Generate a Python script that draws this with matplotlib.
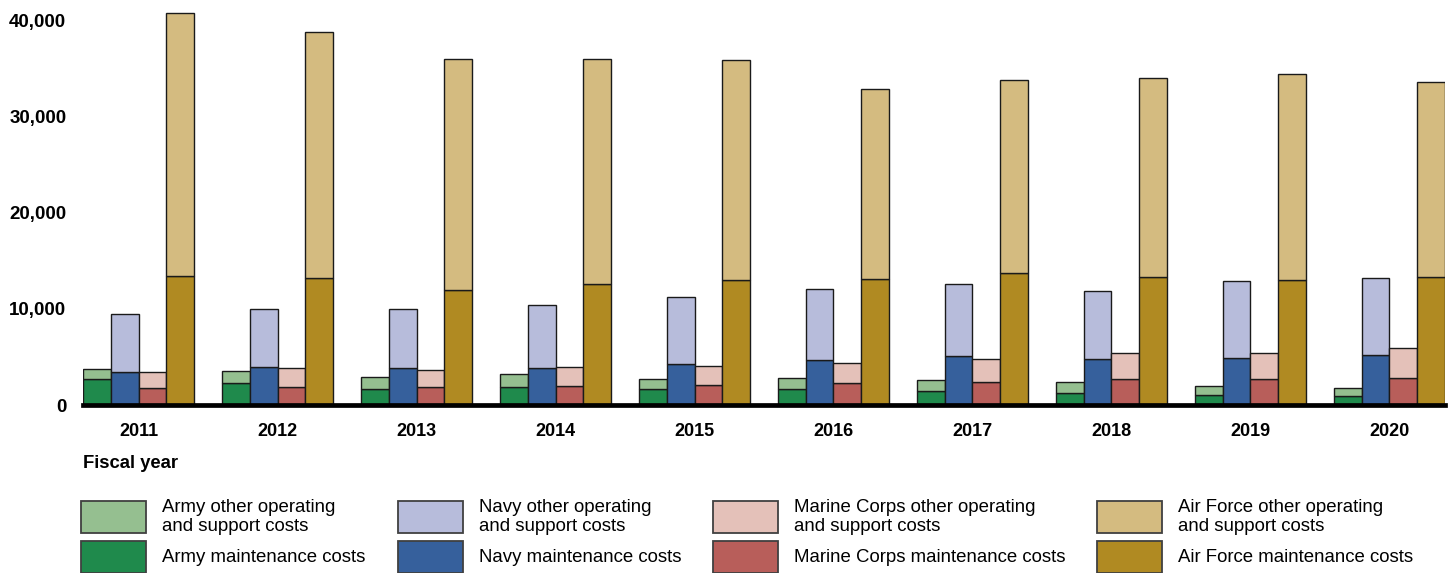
import numpy as np
import matplotlib.pyplot as plt
from matplotlib.patches import Rectangle
from matplotlib.ticker import FuncFormatter

plt.rcParams['font.family'] = ['Liberation Sans', 'DejaVu Sans']

# DATA
# ==========================================
years = ['2011', '2012', '2013', '2014', '2015', '2016', '2017', '2018', '2019', '2020']

army_maint = [2700, 2250, 1690, 1900, 1690, 1690, 1450, 1210, 1070, 960]
army_other = [1010, 1280, 1190, 1290, 1040, 1080, 1180, 1140, 870, 780]
navy_maint = [3460, 3920, 3840, 3810, 4290, 4680, 5060, 4780, 4910, 5190]
navy_other = [6030, 6080, 6100, 6550, 6900, 7340, 7480, 7100, 8000, 7970]
marine_maint = [1740, 1900, 1900, 1940, 2050, 2290, 2420, 2700, 2670, 2840]
marine_other = [1720, 1940, 1770, 1980, 1980, 2070, 2330, 2670, 2700, 3080]
af_maint = [13370, 13190, 11980, 12600, 12990, 13120, 13710, 13270, 12990, 13330]
af_other = [27330, 25560, 23940, 23350, 22850, 19680, 20060, 20730, 21430, 20200]

services = ['Army', 'Navy', 'Marine Corps', 'Air Force']
maint_colors = ['#1f8a4c', '#36609c', '#b85e5a', '#b08a22']
other_colors = ['#95bf90', '#b7bcdb', '#e4c1b9', '#d4bb80']


def main():
    fig = plt.figure(figsize=(14.53, 5.73), dpi=100)
    ax = fig.add_axes([83 / 1453, 168 / 573, 1362 / 1453, 394.6 / 573])

    maint = [army_maint, navy_maint, marine_maint, af_maint]
    other = [army_other, navy_other, marine_other, af_other]
    x = np.arange(len(years))
    w = 0.2

    # BARS
    # ==========================================
    for j in range(4):
        pos = x + (j - 1.5) * w
        ax.bar(pos, maint[j], width=w, color=maint_colors[j],
               edgecolor='#1a1a1a', linewidth=1.0, zorder=2)
        ax.bar(pos, other[j], width=w, bottom=maint[j], color=other_colors[j],
               edgecolor='#1a1a1a', linewidth=1.0, zorder=2)

    ax.set_xlim(-0.4, len(years) - 1 + 0.4)
    ax.set_ylim(0, 41000)
    ax.set_yticks([0, 10000, 20000, 30000, 40000])
    ax.yaxis.set_major_formatter(FuncFormatter(lambda v, p: f'{int(v):,}'))
    ax.set_xticks(x)
    ax.set_xticklabels(years)

    for s in ['top', 'right', 'left']:
        ax.spines[s].set_visible(False)
    ax.spines['bottom'].set_linewidth(3.4)
    ax.spines['bottom'].set_color('black')
    ax.spines['bottom'].set_zorder(5)

    ax.tick_params(axis='y', length=0, pad=12, labelsize=13.5)
    ax.tick_params(axis='x', length=0, pad=13, labelsize=13)
    for lbl in ax.get_yticklabels() + ax.get_xticklabels():
        lbl.set_fontweight('bold')

    fig.text(83 / 1453, 1 - 463 / 573, 'Fiscal year', fontsize=13.3, fontweight='bold',
             ha='left', va='center')

    # LEGEND (drawn by hand to keep the column positions)
    # ==========================================
    W, H = 1453, 573
    col_x = [81, 398, 713, 1097]
    for j, name in enumerate(services):
        px = col_x[j]
        rows = [(501, other_colors[j], f'{name} other operating\nand support costs'),
                (541, maint_colors[j], f'{name} maintenance costs')]
        for top, col, txt in rows:
            fig.add_artist(Rectangle((px / W, 1 - (top + 32) / H), 65 / W, 32 / H,
                                     transform=fig.transFigure, facecolor=col,
                                     edgecolor='#404040', linewidth=1.3))
            fig.text((px + 81) / W, 1 - (top + 16) / H, txt, fontsize=13.4,
                     ha='left', va='center', linespacing=1.2)

    fig.savefig('out.png', dpi=100)


if __name__ == '__main__':
    main()
